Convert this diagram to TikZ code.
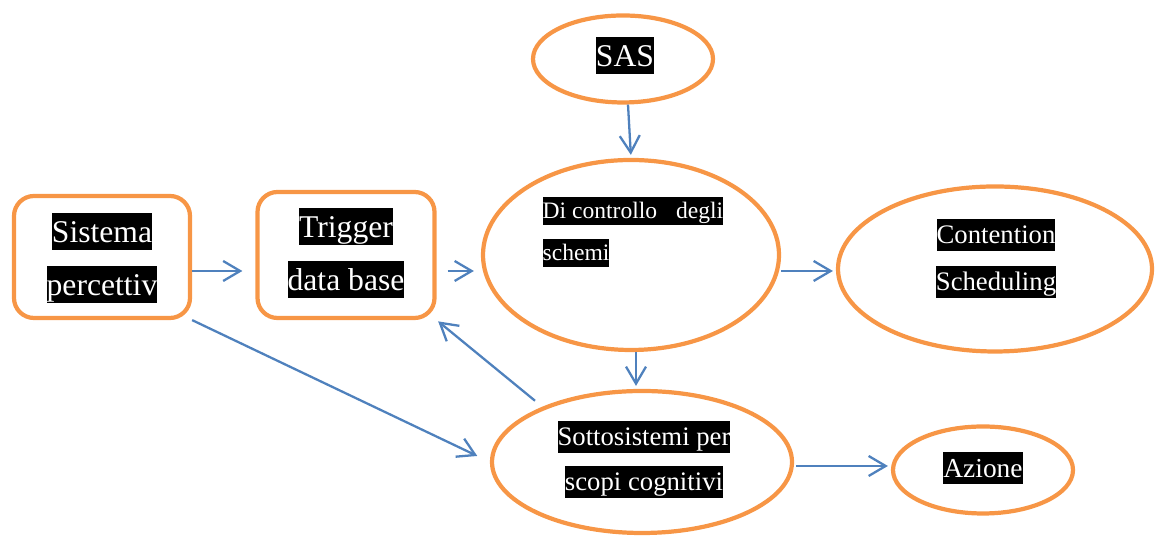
\documentclass[tikz,border=0pt]{standalone}
\usepackage{fontspec}
\setmainfont{Liberation Serif}
\usetikzlibrary{arrows.meta,shapes.geometric}
\definecolor{boxorange}{HTML}{F79646}
\definecolor{arrowblue}{HTML}{4F81BD}
\newcommand{\blk}[1]{{\setlength{\fboxsep}{0pt}\colorbox{black}{\rule[-0.25em]{0pt}{1.17em}\textcolor{white}{#1}}}}
\newcommand{\fs}[1]{\fontsize{#1}{#1}\selectfont}
\begin{document}
\begin{tikzpicture}[
    rbox/.style={draw=boxorange, line width=1.2pt, rounded corners=0.2cm, inner sep=0pt},
    oval/.style={draw=boxorange, line width=1.2pt, ellipse, inner sep=0pt},
    arr/.style={draw=arrowblue, line width=0.65pt, -{Straight Barb[length=0.17cm,width=0.2cm]}},
    txt/.style={inner sep=0pt}]
  \useasboundingbox (0,0) rectangle (11.55,5.38);
  % shapes
  \node[rbox, minimum width=1.76cm, minimum height=1.22cm] (sis) at (1.02, 2.81) {};
  \node[rbox, minimum width=1.77cm, minimum height=1.26cm] (trig) at (3.46, 2.83) {};
  \node[oval, minimum width=1.80cm, minimum height=0.87cm] (sas) at (6.23, 4.79) {};
  \node[oval, minimum width=2.96cm, minimum height=1.90cm] (ctrl) at (6.31, 2.83) {};
  \node[oval, minimum width=3.14cm, minimum height=1.65cm] (cont) at (9.95, 2.69) {};
  \node[oval, minimum width=3.00cm, minimum height=1.42cm] (sott) at (6.42, 0.76) {};
  \node[oval, minimum width=1.80cm, minimum height=0.87cm] (az) at (9.83, 0.68) {};

  % texts
  \node[txt] (sisA) at (1.02, 3.06) {\fs{9}\blk{Sistema}};
  \node[txt] (sisB) at (1.02, 2.53) {\fs{9}\blk{percettiv}};
  \node[txt] (trigA) at (3.46, 3.11) {\fs{9}\blk{Trigger}};
  \node[txt] (trigB) at (3.46, 2.58) {\fs{9}\blk{data base}};
  \node[txt] (sasA) at (6.25, 4.82) {\fs{9}\blk{SAS}};
  \node[txt, anchor=west] (ctrlA) at (5.42, 3.27) {\fs{6.7}\blk{Di controllo\hspace{0.13cm} degli}};
  \node[txt, anchor=west] (ctrlB) at (5.42, 2.85) {\fs{6.7}\blk{schemi}};
  \node[txt] (contA) at (9.96, 3.03) {\fs{7.6}\blk{Contention}};
  \node[txt] (contB) at (9.96, 2.56) {\fs{7.6}\blk{Scheduling}};
  \node[txt] (sottA) at (6.44, 1.01) {\fs{7.6}\blk{Sottosistemi per}};
  \node[txt] (sottB) at (6.44, 0.56) {\fs{7.6}\blk{scopi cognitivi}};
  \node[txt] (azA) at (9.83, 0.70) {\fs{7.8}\blk{Azione}};

  % connectors
  \draw[arr, shorten >=0.13cm] ([yshift=-0.14cm]sis.east) -- ([yshift=-0.14cm]sis.east -| trig.west);
  \draw[arr, shorten <=0.11cm, shorten >=0.07cm] ([yshift=-0.16cm]trig.east) -- ([yshift=-0.16cm]trig.east -| ctrl.west);
  \draw[arr, shorten >=0.03cm] ([xshift=0.05cm]sas.south) -- (ctrl.north);
  \draw[arr, shorten >=0.03cm] ([yshift=-0.16cm]ctrl.east) -- ([yshift=-0.16cm]ctrl.east -| cont.west);
  \draw[arr, shorten >=0.03cm] ([xshift=0.05cm]ctrl.south) -- ([xshift=0.05cm]ctrl.south |- sott.north);
  \draw[arr, shorten >=0.02cm] ([shift={(-0.05cm,0.07cm)}]sott.152) -- (trig.south east);
  \draw[arr, shorten >=0.14cm] (sis.south east) -- (sott.west);
  \draw[arr, shorten <=0.02cm, shorten >=0.03cm] ([yshift=-0.04cm]sott.east) -- ([yshift=-0.04cm]sott.east -| az.west);
\end{tikzpicture}
\end{document}
